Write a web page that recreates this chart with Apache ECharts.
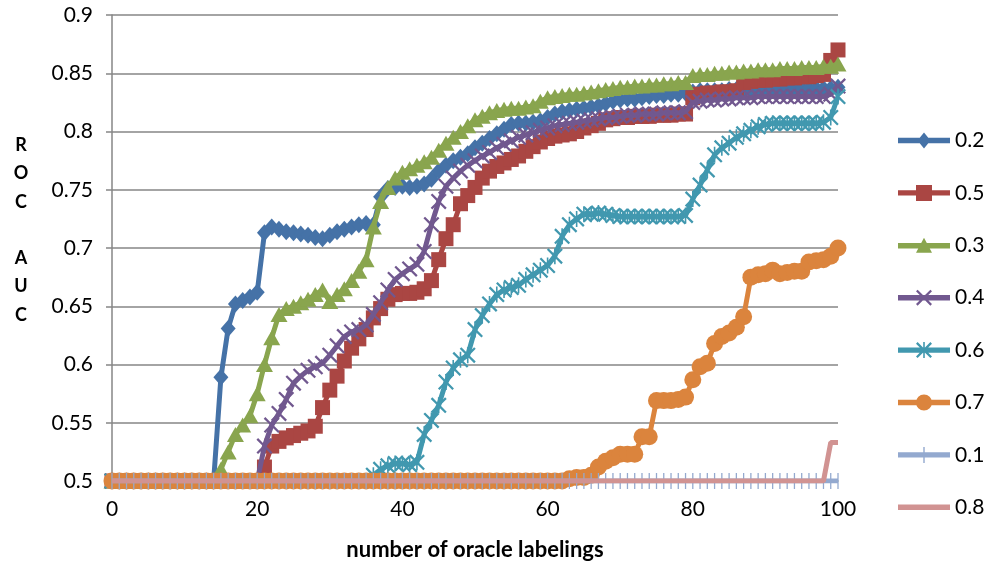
<!DOCTYPE html>
<html>
<head>
<meta charset="utf-8">
<script src="https://cdn.jsdelivr.net/npm/echarts@6/dist/echarts.min.js"></script>
<style>html,body{margin:0;padding:0;background:#fff}#c{width:984px;height:563px}</style>
</head>
<body>
<div id="c"></div>
<script>
// number of oracle labelings: 0..100 (index of each value)
const xTicks = [0, 20, 40, 60, 80, 100];
const yTicks = [0.5, 0.55, 0.6, 0.65, 0.7, 0.75, 0.8, 0.85, 0.9];
const seriesNames = ['0.2', '0.5', '0.3', '0.4', '0.6', '0.7', '0.1', '0.8'];

const s02 = [0.5,0.5,0.5,0.5,0.5,0.5,0.5,0.5,0.5,0.5,
0.5,0.5,0.5,0.5,0.5,0.589,0.631,0.652,0.655,0.658,
0.662,0.713,0.718,0.716,0.714,0.713,0.712,0.711,0.709,0.708,
0.711,0.714,0.716,0.718,0.72,0.721,0.72,0.744,0.751,0.752,
0.753,0.752,0.753,0.755,0.759,0.766,0.771,0.775,0.778,0.781,
0.786,0.79,0.794,0.798,0.802,0.806,0.807,0.807,0.808,0.809,
0.812,0.815,0.817,0.818,0.819,0.82,0.821,0.822,0.824,0.826,
0.827,0.828,0.828,0.829,0.83,0.831,0.831,0.832,0.832,0.833,
0.834,0.835,0.835,0.835,0.835,0.836,0.836,0.836,0.836,0.836,
0.836,0.836,0.836,0.837,0.837,0.837,0.837,0.837,0.837,0.837,
0.838];

const s05 = [0.5,0.5,0.5,0.5,0.5,0.5,0.5,0.5,0.5,0.5,
0.5,0.5,0.5,0.5,0.5,0.5,0.5,0.5,0.5,0.5,
0.5,0.512,0.53,0.534,0.537,0.539,0.541,0.543,0.547,0.563,
0.578,0.59,0.603,0.614,0.622,0.63,0.64,0.648,0.656,0.66,
0.661,0.661,0.662,0.665,0.672,0.69,0.708,0.72,0.738,0.745,
0.752,0.76,0.766,0.77,0.773,0.776,0.779,0.783,0.787,0.791,
0.794,0.796,0.797,0.798,0.8,0.803,0.805,0.807,0.81,0.811,
0.812,0.812,0.813,0.813,0.813,0.814,0.814,0.814,0.815,0.815,
0.829,0.832,0.833,0.833,0.834,0.834,0.835,0.842,0.843,0.844,
0.844,0.845,0.845,0.846,0.846,0.847,0.847,0.848,0.849,0.861,
0.87];

const s03 = [0.5,0.5,0.5,0.5,0.5,0.5,0.5,0.5,0.5,0.5,
0.5,0.5,0.5,0.5,0.5,0.51,0.525,0.54,0.548,0.556,
0.575,0.6,0.623,0.643,0.648,0.65,0.653,0.656,0.66,0.664,
0.654,0.66,0.665,0.672,0.68,0.69,0.718,0.74,0.752,0.76,
0.765,0.768,0.771,0.774,0.778,0.784,0.79,0.795,0.8,0.805,
0.81,0.813,0.816,0.818,0.819,0.82,0.82,0.821,0.822,0.826,
0.829,0.83,0.831,0.832,0.832,0.833,0.834,0.835,0.836,0.837,
0.838,0.838,0.839,0.839,0.84,0.84,0.841,0.841,0.842,0.842,
0.848,0.849,0.849,0.85,0.85,0.851,0.851,0.852,0.852,0.853,
0.853,0.853,0.854,0.854,0.854,0.855,0.855,0.855,0.856,0.856,
0.858];

const s04 = [0.5,0.5,0.5,0.5,0.5,0.5,0.5,0.5,0.5,0.5,
0.5,0.5,0.5,0.5,0.5,0.5,0.5,0.5,0.5,0.5,
0.5,0.53,0.548,0.558,0.57,0.584,0.59,0.595,0.598,0.601,
0.608,0.616,0.624,0.628,0.63,0.634,0.643,0.653,0.664,0.673,
0.678,0.682,0.686,0.697,0.72,0.74,0.753,0.76,0.766,0.771,
0.775,0.779,0.782,0.786,0.789,0.792,0.795,0.797,0.799,0.801,
0.803,0.805,0.806,0.807,0.808,0.809,0.81,0.811,0.812,0.812,
0.813,0.814,0.814,0.815,0.815,0.815,0.816,0.816,0.816,0.817,
0.825,0.826,0.827,0.827,0.828,0.828,0.829,0.829,0.829,0.83,
0.83,0.83,0.83,0.83,0.83,0.83,0.83,0.83,0.83,0.832,
0.839];

const s06 = [0.5,0.5,0.5,0.5,0.5,0.5,0.5,0.5,0.5,0.5,
0.5,0.5,0.5,0.5,0.5,0.5,0.5,0.5,0.5,0.5,
0.5,0.5,0.5,0.5,0.5,0.5,0.5,0.5,0.5,0.5,
0.5,0.5,0.5,0.5,0.5,0.5,0.505,0.51,0.513,0.515,
0.515,0.514,0.516,0.54,0.552,0.565,0.585,0.597,0.604,0.608,
0.63,0.642,0.652,0.66,0.664,0.666,0.668,0.673,0.677,0.681,
0.685,0.693,0.71,0.72,0.725,0.729,0.729,0.73,0.729,0.728,
0.727,0.727,0.727,0.727,0.727,0.727,0.727,0.727,0.727,0.728,
0.742,0.754,0.767,0.78,0.786,0.79,0.795,0.798,0.801,0.804,
0.806,0.807,0.807,0.807,0.807,0.807,0.807,0.807,0.808,0.812,
0.83];

const s07 = [0.5,0.5,0.5,0.5,0.5,0.5,0.5,0.5,0.5,0.5,
0.5,0.5,0.5,0.5,0.5,0.5,0.5,0.5,0.5,0.5,
0.5,0.5,0.5,0.5,0.5,0.5,0.5,0.5,0.5,0.5,
0.5,0.5,0.5,0.5,0.5,0.5,0.5,0.5,0.5,0.5,
0.5,0.5,0.5,0.5,0.5,0.5,0.5,0.5,0.5,0.5,
0.5,0.5,0.5,0.5,0.5,0.5,0.5,0.5,0.5,0.5,
0.5,0.5,0.5,0.502,0.503,0.503,0.505,0.512,0.517,0.52,
0.523,0.523,0.523,0.538,0.538,0.569,0.569,0.569,0.57,0.572,
0.587,0.598,0.601,0.618,0.624,0.627,0.632,0.641,0.675,0.677,
0.678,0.681,0.678,0.679,0.68,0.68,0.688,0.689,0.69,0.693,
0.7];

const s01 = [0.5,0.5,0.5,0.5,0.5,0.5,0.5,0.5,0.5,0.5,
0.5,0.5,0.5,0.5,0.5,0.5,0.5,0.5,0.5,0.5,
0.5,0.5,0.5,0.5,0.5,0.5,0.5,0.5,0.5,0.5,
0.5,0.5,0.5,0.5,0.5,0.5,0.5,0.5,0.5,0.5,
0.5,0.5,0.5,0.5,0.5,0.5,0.5,0.5,0.5,0.5,
0.5,0.5,0.5,0.5,0.5,0.5,0.5,0.5,0.5,0.5,
0.5,0.5,0.5,0.5,0.5,0.5,0.5,0.5,0.5,0.5,
0.5,0.5,0.5,0.5,0.5,0.5,0.5,0.5,0.5,0.5,
0.5,0.5,0.5,0.5,0.5,0.5,0.5,0.5,0.5,0.5,
0.5,0.5,0.5,0.5,0.5,0.5,0.5,0.5,0.5,0.5,
0.5];

const s08 = [0.5,0.5,0.5,0.5,0.5,0.5,0.5,0.5,0.5,0.5,
0.5,0.5,0.5,0.5,0.5,0.5,0.5,0.5,0.5,0.5,
0.5,0.5,0.5,0.5,0.5,0.5,0.5,0.5,0.5,0.5,
0.5,0.5,0.5,0.5,0.5,0.5,0.5,0.5,0.5,0.5,
0.5,0.5,0.5,0.5,0.5,0.5,0.5,0.5,0.5,0.5,
0.5,0.5,0.5,0.5,0.5,0.5,0.5,0.5,0.5,0.5,
0.5,0.5,0.5,0.5,0.5,0.5,0.5,0.5,0.5,0.5,
0.5,0.5,0.5,0.5,0.5,0.5,0.5,0.5,0.5,0.5,
0.5,0.5,0.5,0.5,0.5,0.5,0.5,0.5,0.5,0.5,
0.5,0.5,0.5,0.5,0.5,0.5,0.5,0.5,0.5,0.533,
0.533];

const seriesValues = [s02, s05, s03, s04, s06, s07, s01, s08];
const colors = ['#4572A7', '#AA4643', '#89A54E', '#71588F', '#4198AF', '#DB843D', '#93A9CF', '#D19392'];

const X_PATH = 'path://M2,0L10,8L18,0L20,2L12,10L20,18L18,20L10,12L2,20L0,18L8,10L0,2Z';
const AST_PATH = 'path://M2,0L10,8L18,0L20,2L12,10L20,18L18,20L10,12L2,20L0,18L8,10L0,2Z M9,0L11,0L11,20L9,20Z';
const PLUS_PATH = 'path://M9.2,0L10.8,0L10.8,20L9.2,20Z';
const symbols = ['diamond', 'rect', 'triangle', X_PATH, AST_PATH, 'circle', PLUS_PATH, 'none'];
const symSizes = [[15,17], 15, [17,15], 16, 16, 17, 16, 0];
const keepAspect = [false, false, false, false, false, false, true, false];

// legend icons: thick line + marker (52 x 16 box)
const BAR = 'M0,5.3L52,5.3L52,10.7L0,10.7Z';
const legendIcons = [
  'path://' + BAR + ' M26,0L32.5,8L26,16L19.5,8Z',
  'path://' + BAR + ' M18,0L34,0L34,16L18,16Z',
  'path://' + BAR + ' M26,0L34,15L18,15Z',
  'path://' + BAR + ' M19.6,0L26,6.4L32.4,0L34,1.6L27.6,8L34,14.4L32.4,16L26,9.6L19.6,16L18,14.4L24.4,8L18,1.6Z',
  'path://' + BAR + ' M19.6,0L26,6.4L32.4,0L34,1.6L27.6,8L34,14.4L32.4,16L26,9.6L19.6,16L18,14.4L24.4,8L18,1.6Z M25.2,0L26.8,0L26.8,16L25.2,16Z',
  'path://' + BAR + ' M18,8A8,8 0 1 1 34,8A8,8 0 1 1 18,8Z',
  'path://' + BAR + ' M25.3,0L26.7,0L26.7,16L25.3,16Z',
  'path://M0,0L52,0L52,5.4L0,5.4Z'
];

const FONT = 'Lato, "Open Sans", sans-serif';
const chart = echarts.init(document.getElementById('c'), null, {renderer: 'canvas'});

const series = seriesNames.map((name, k) => ({
  name: name,
  type: 'line',
  z: 2 + k,
  data: seriesValues[k].map((v, i) => [i, v]),
  symbol: symbols[k],
  symbolSize: symSizes[k],
  symbolKeepAspect: keepAspect[k],
  showSymbol: symbols[k] !== 'none',
  showAllSymbol: true,
  lineStyle: {color: colors[k], width: 5},
  itemStyle: {color: colors[k], borderWidth: 0},
  emphasis: {disabled: true},
  animation: false
}));

chart.setOption({
  animation: false,
  color: colors,
  grid: {left: 112, right: 146, top: 15, bottom: 82, containLabel: false},
  xAxis: {
    type: 'value', min: 0, max: 100, interval: 20,
    axisLine: {show: true, lineStyle: {color: '#868686', width: 1.5}},
    axisTick: {show: false},
    splitLine: {show: false},
    axisLabel: {color: '#000', fontFamily: FONT, fontSize: 21, margin: 18}
  },
  yAxis: {
    type: 'value', min: 0.5, max: 0.9, interval: 0.05,
    axisLine: {show: true, lineStyle: {color: '#868686', width: 1.5}},
    axisTick: {show: true, length: 6, lineStyle: {color: '#868686', width: 1.5}},
    splitLine: {show: true, lineStyle: {color: '#868686', width: 1.5}},
    axisLabel: {color: '#000', fontFamily: FONT, fontSize: 21, margin: 19,
      formatter: v => String(+v.toFixed(2))}
  },
  legend: {
    orient: 'vertical', left: 893, top: 125,
    itemWidth: 52, itemHeight: 16, itemGap: 31.4,
    symbolKeepAspect: true,
    textStyle: {color: '#000', fontFamily: FONT, fontSize: 21},
    data: seriesNames.map((n, k) => ({name: n, icon: legendIcons[k]}))
  },
  graphic: [
    {type: 'text', x: 21, y: 131, silent: true,
     style: {text: 'R\nO\nC\n\nA\nU\nC', fill: '#000', font: 'bold 18px ' + FONT,
       textAlign: 'center', textVerticalAlign: 'top', lineHeight: 28.3}},
    {type: 'text', x: 475, y: 550, silent: true,
     style: {text: 'number of oracle labelings', fill: '#000', font: 'bold 22px ' + FONT,
       textAlign: 'center', textVerticalAlign: 'middle'}}
  ],
  series: series
});
</script>
</body>
</html>
